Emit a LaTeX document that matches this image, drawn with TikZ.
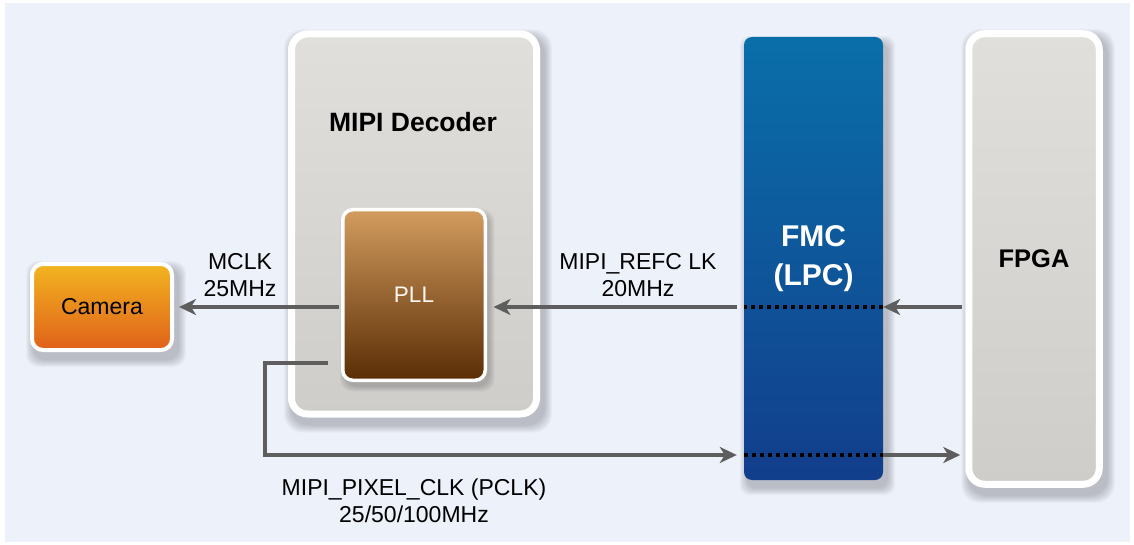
\documentclass[tikz,border=0pt]{standalone}
\usepackage{fontspec}
\setmainfont{Liberation Sans}
\usetikzlibrary{arrows.meta}
\pgfdeclarelayer{bgl}
\pgfdeclarelayer{shadowl}
\pgfsetlayers{bgl,shadowl,main}
\definecolor{bg}{HTML}{EDF1FA}
\definecolor{linegray}{HTML}{5E5E5E}
\definecolor{camT}{HTML}{F2B520}
\definecolor{camB}{HTML}{E0601A}
\definecolor{pllT}{HTML}{D39C5F}
\definecolor{pllB}{HTML}{5A2D05}
\definecolor{fmcT}{HTML}{0A6FA9}
\definecolor{fmcB}{HTML}{123E8B}
\definecolor{grayT}{HTML}{E1DFDC}
\definecolor{grayM}{HTML}{E5E3E0}
\definecolor{grayB}{HTML}{CFCDCA}
\newcommand{\mysoftshadow}[2]{%
  \begin{pgfonlayer}{shadowl}
  \foreach \k in {1,...,8}{
    \fill[black, opacity=0.028, rounded corners=#2]
      ([shift={(4-\k,7-\k)}]#1.north west) rectangle ([shift={(4+\k,7+\k)}]#1.south east);
  }
  \end{pgfonlayer}}
\begin{document}
\begin{tikzpicture}[x=1pt,y=-1pt,
  box/.style={rectangle, inner sep=0pt, draw=white},
  arr/.style={draw=linegray, line width=4pt, -{Stealth[length=17pt,width=16pt,inset=5pt]}},
  dots/.style={draw=black, line width=4pt, dash pattern=on 4pt off 4pt},
  lbl/.style={font=\fontsize{23}{27}\selectfont, align=center, text=black},
]
\begin{pgfonlayer}{bgl}
\fill[white] (0,0) rectangle (1134,545);
\fill[bg] (5,3) rectangle (1130,542);
\end{pgfonlayer}
\useasboundingbox (0,0) rectangle (1134,545);

% blocks
\node[box, minimum width=245pt, minimum height=380pt, rounded corners=16pt, line width=7pt,
  top color=grayT, middle color=grayM, bottom color=grayB] (dec) at (414,224) {};
\node[font=\bfseries\fontsize{26.5}{30}\selectfont] (dect) at (413,122) {MIPI Decoder};

% PLL shadow on the decoder
\foreach \k in {1,...,6}{
  \fill[black, opacity=0.03, rounded corners=12pt]
    ({343+3-\k},{210+5-\k}) rectangle ({485.5+3+\k},{380.5+5+\k});
}
\node[box, minimum width=142.5pt, minimum height=170.5pt, rounded corners=10pt, line width=3.5pt,
  top color=pllT, bottom color=pllB, text={white!95!orange},
  font=\fontsize{22.5}{27}\selectfont] (pll) at (414,295) {PLL};

\node[box, minimum width=140pt, minimum height=86pt, rounded corners=11pt, line width=4pt,
  top color=camT, bottom color=camB, font=\fontsize{23}{27}\selectfont] (cam) at (102,307) {Camera};

\node[box, draw=none, minimum width=139pt, minimum height=443pt, rounded corners=8pt,
  top color=fmcT, bottom color=fmcB, text=white, align=center,
  font=\bfseries\fontsize{30}{39}\selectfont] (fmc) at (813.5,258.5) {FMC\\(LPC)};

\node[box, minimum width=130.5pt, minimum height=450.5pt, rounded corners=16pt, line width=7pt,
  top color=grayT, middle color=grayM, bottom color=grayB,
  font=\bfseries\fontsize{25.5}{30}\selectfont] (fpga) at (1034,259) {FPGA};

\mysoftshadow{dec}{18pt}
\mysoftshadow{cam}{12pt}
\mysoftshadow{fmc}{10pt}
\mysoftshadow{fpga}{18pt}

% connectors
\coordinate (r) at (0,307);
\coordinate (p) at (0,455);
\coordinate (p0) at (328,363);
\coordinate (pc) at (265,0);

\draw[arr, shorten <=3.5pt] (fpga.west |- r) -- (fmc.east |- r);
\draw[dots] (fmc.east |- r) -- (fmc.west |- r);
\draw[arr, shorten <=7pt, shorten >=6.5pt] (fmc.west |- r) -- (pll.east |- r);
\draw[arr, shorten <=2pt, shorten >=5pt] (pll.west |- r) -- (cam.east |- r);

\draw[arr, shorten >=7pt] (p0) -- (pc |- p0) -- (pc |- p) -- (fmc.west |- p);
\draw[dots] (fmc.west |- p) -- (fmc.east |- p);
\draw[arr, shorten >=5pt] (fmc.east |- p) -- (fpga.west |- p);

% labels
\node[lbl] (mclk) at (240,275.5) {MCLK\\25MHz};
\node[lbl] (refclk) at (638,275.5) {MIPI\_REFC LK\\20MHz};
\node[lbl] (pclk) at (414,500.5) {MIPI\_PIXEL\_CLK (PCLK)\\25/50/100MHz};
\end{tikzpicture}
\end{document}
